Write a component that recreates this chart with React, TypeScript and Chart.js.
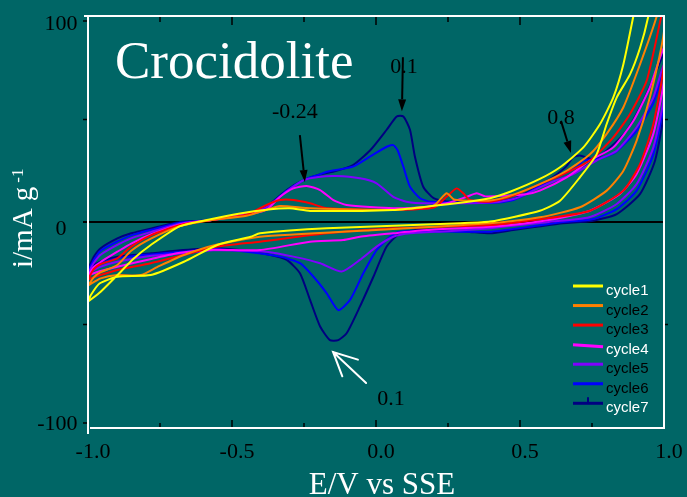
import React, { useEffect, useRef } from 'react';
import { Chart, registerables } from 'chart.js';

Chart.register(...registerables);

// ---------------- data ----------------
const seriesLabels = ['cycle1', 'cycle2', 'cycle3', 'cycle4', 'cycle5', 'cycle6', 'cycle7'];
const seriesColors = ['#ffff00', '#ff8000', '#ff0000', '#ff00ff', '#8000ff', '#0000ff', '#000080'];
const legendTextColors = ['#ffffff', '#000000', '#000000', '#ffffff', '#000000', '#000000', '#ffffff'];

// each cycle: [E (V vs SSE), i (mA/g)] – forward sweep then reverse sweep
const cycle1: [number, number][] = [
  [-1.0, -38.9], [-0.956, -34], [-0.898, -25.9], [-0.84, -17.7], [-0.782, -11.2], [-0.68, -2], [-0.57, 1.5],
  [-0.472, 4.2], [-0.38, 6], [-0.3, 6.7], [-0.229, 5.4], [0.06, 5.9], [0.176, 7.5], [0.3, 9.5], [0.396, 11.6],
  [0.47, 15], [0.569, 21], [0.639, 26.7], [0.72, 36.4], [0.778, 47.8], [0.824, 60.8], [0.859, 77], [0.893, 100],
  [0.92, 120], [0.97, 120], [0.945, 100], [0.917, 85], [0.882, 72], [0.836, 60.8], [0.801, 47.8], [0.766, 33],
  [0.708, 21.8], [0.639, 10.4], [0.569, 5.5], [0.396, 0.2], [0.292, -0.6], [-0.171, -3.1], [-0.403, -5.5],
  [-0.435, -7.2], [-0.551, -11.2], [-0.667, -19.4], [-0.782, -25.9], [-0.898, -26.7], [-0.96, -30], [-0.99, -35.6],
  [-1.0, -38.9],
];
const cycle2: [number, number][] = [
  [-1.0, -31], [-0.98, -27], [-0.956, -24.5], [-0.898, -21], [-0.85, -14], [-0.78, -8], [-0.68, -2], [-0.57, 1],
  [-0.45, 3], [-0.38, 6], [-0.333, 7.8], [-0.229, 6.7], [0.06, 5.9], [0.2, 8], [0.245, 14], [0.27, 11], [0.3, 10.5],
  [0.396, 10.5], [0.47, 13], [0.569, 18.5], [0.662, 25], [0.743, 33], [0.801, 43], [0.859, 56], [0.917, 77],
  [0.974, 100], [1.0, 115],
  [1.0, 93], [0.951, 60.8], [0.905, 39.7], [0.859, 25], [0.801, 15.3], [0.708, 7.2], [0.569, 2.3], [0.396, -0.6],
  [0.0, -3.9], [-0.403, -7.2], [-0.551, -11], [-0.667, -16.1], [-0.76, -22], [-0.817, -25.9], [-0.898, -25.9],
  [-0.956, -27.5], [-1.0, -31],
];
const cycle3: [number, number][] = [
  [-1.0, -28], [-0.98, -23], [-0.956, -20.5], [-0.898, -17.7], [-0.85, -12], [-0.78, -6.4], [-0.68, -1.5], [-0.57, 1],
  [-0.45, 3.5], [-0.38, 8.3], [-0.333, 10.7], [-0.287, 10.7], [-0.229, 9.1], [-0.171, 6.7], [0.06, 5.9], [0.2, 7],
  [0.245, 12.3], [0.28, 16.4], [0.303, 14], [0.326, 10.7], [0.396, 9.9], [0.47, 12.5], [0.569, 18.5], [0.627, 21.8],
  [0.743, 30], [0.824, 41.3], [0.882, 52.7], [0.94, 69], [0.99, 100], [1.0, 106],
  [1.0, 77], [0.963, 47.8], [0.917, 28.3], [0.859, 15.3], [0.743, 5.5], [0.569, 1.3], [0.396, -1.5], [0.06, -3.1],
  [-0.171, -5.5], [-0.403, -9.6], [-0.551, -12], [-0.667, -16.1], [-0.782, -20.1], [-0.898, -23.4], [-0.96, -26],
  [-1.0, -28],
];
const cycle4: [number, number][] = [
  [-1.0, -26], [-0.98, -22], [-0.956, -19.5], [-0.898, -14.5], [-0.85, -10.5], [-0.78, -6], [-0.68, -1.2], [-0.57, 1],
  [-0.45, 3.5], [-0.38, 6], [-0.333, 12.3], [-0.287, 16.4], [-0.241, 17.6], [-0.194, 15.6], [-0.148, 10.7],
  [-0.102, 8.3], [0.06, 6.7], [0.176, 7.5], [0.245, 9.1], [0.315, 12.3], [0.35, 14], [0.38, 12.5], [0.45, 12.8],
  [0.52, 13.5], [0.569, 15.3], [0.662, 21.8], [0.743, 30], [0.824, 36.4], [0.894, 49.4], [0.951, 65.7], [1.0, 85],
  [1.0, 69], [0.963, 43], [0.905, 23.4], [0.847, 13.7], [0.743, 5.5], [0.62, 1.5], [0.5, -1], [0.396, -2.3],
  [0.176, -3.9], [0.06, -5.5], [-0.056, -7.2], [-0.114, -8.8], [-0.229, -9.6], [-0.403, -13.7], [-0.565, -13.5],
  [-0.68, -15], [-0.78, -18], [-0.898, -21.8], [-0.96, -24], [-1.0, -26],
];
const cycle5: [number, number][] = [
  [-1.0, -25], [-0.98, -20], [-0.956, -16], [-0.898, -11.2], [-0.85, -8], [-0.78, -4.8], [-0.68, -0.8], [-0.57, 1],
  [-0.45, 4], [-0.38, 7.3], [-0.31, 15], [-0.25, 20.5], [-0.2, 22], [-0.137, 22.4], [-0.056, 21.3], [0.002, 18.9],
  [0.06, 12.3], [0.106, 9.9], [0.176, 9.1], [0.4, 9.5], [0.47, 11], [0.52, 13.5], [0.569, 16.9], [0.62, 20],
  [0.685, 23.4], [0.766, 30], [0.836, 34.8], [0.905, 46.2], [0.963, 60.8], [1.0, 77],
  [1.0, 61], [0.963, 36.4], [0.905, 18.5], [0.836, 8.8], [0.74, 2.3], [0.6, 0], [0.5, -1.5], [0.4, -3], [0.25, -4.5],
  [0.118, -5.5], [0.06, -7.2], [0.002, -12], [-0.056, -18.5], [-0.119, -24.2], [-0.194, -20.1], [-0.287, -16.9],
  [-0.38, -14.5], [-0.45, -14], [-0.565, -13.8], [-0.67, -15.2], [-0.78, -16.5], [-0.898, -19.4], [-0.96, -22],
  [-1.0, -25],
];
const cycle6: [number, number][] = [
  [-1.0, -24], [-0.98, -18.5], [-0.956, -14], [-0.898, -9.5], [-0.85, -6.5], [-0.78, -3.8], [-0.68, -0.4], [-0.57, 1],
  [-0.45, 4], [-0.38, 7.3], [-0.31, 15.2], [-0.25, 20.5], [-0.2, 23], [-0.17, 24.5], [-0.08, 27], [-0.02, 32],
  [0.037, 36.7], [0.06, 37.5], [0.075, 35], [0.095, 27], [0.118, 17.2], [0.153, 11.6], [0.19, 9.9], [0.4, 9.3],
  [0.47, 10.5], [0.52, 13.5], [0.569, 17.7], [0.62, 21.5], [0.66, 24], [0.7, 27], [0.72, 30], [0.766, 30.7],
  [0.8, 32], [0.836, 34.5], [0.905, 44.5], [0.963, 58], [1.0, 74],
  [1.0, 58], [0.963, 33], [0.905, 15.3], [0.836, 6.3], [0.75, 1.3], [0.65, 0], [0.55, -2], [0.4, -4.7], [0.29, -4.7],
  [0.083, -4.7], [0.049, -7.2], [0.002, -13.7], [-0.044, -25], [-0.09, -38], [-0.131, -43], [-0.171, -34.8],
  [-0.217, -26.7], [-0.264, -20.1], [-0.333, -16.9], [-0.45, -14.5], [-0.565, -13.2], [-0.67, -14.5], [-0.78, -15.8],
  [-0.898, -17.7], [-0.96, -20.5], [-1.0, -24],
];
const cycle7: [number, number][] = [
  [-1.0, -23], [-0.98, -17], [-0.956, -12.8], [-0.898, -8], [-0.85, -5.5], [-0.78, -3.1], [-0.68, 0], [-0.57, 1],
  [-0.45, 4.2], [-0.38, 7.5], [-0.31, 15.6], [-0.25, 20.5], [-0.2, 23], [-0.15, 24.5], [-0.08, 27.8], [-0.02, 35],
  [0.037, 45], [0.072, 51.5], [0.095, 51.5], [0.118, 45], [0.135, 32], [0.164, 17.2], [0.2, 11.6], [0.245, 10],
  [0.4, 10], [0.47, 11], [0.52, 14], [0.569, 17.7], [0.616, 22], [0.66, 27], [0.685, 31.6], [0.708, 32.4],
  [0.755, 30.7], [0.8, 34.8], [0.87, 44.5], [0.928, 59], [0.974, 73.8], [1.0, 82],
  [1.0, 54], [0.969, 30], [0.917, 13.7], [0.836, 3.9], [0.75, 0.5], [0.65, -0.6], [0.55, -2.5], [0.477, -3.9],
  [0.396, -5.5], [0.315, -4.7], [0.153, -3.9], [0.083, -5.5], [0.037, -12], [-0.009, -26.7], [-0.056, -41.3],
  [-0.102, -54.3], [-0.131, -57.6], [-0.16, -57.6], [-0.194, -51], [-0.229, -38], [-0.264, -25], [-0.31, -18.5],
  [-0.37, -16], [-0.45, -14], [-0.565, -12.8], [-0.67, -13.7], [-0.78, -15.3], [-0.898, -16.9], [-0.96, -19.5],
  [-1.0, -23],
];
const cycles = [cycle1, cycle2, cycle3, cycle4, cycle5, cycle6, cycle7];

const xMajorTicks = [-1, -0.5, 0, 0.5, 1];
const xMajorTickLabels = ['-1.0', '-0.5', '0.0', '0.5', '1.0'];
const xMinorTicks = [-0.75, -0.25, 0.25, 0.75];
const yLabelTicks = [100, 0, -100];
const yLabelTickLabels = ['100', '0', '-100'];
const yMinorTicks = [50, -50];

const chartTitle = 'Crocidolite';
const xAxisTitle = 'E/V vs SSE';
const yAxisTitle = 'i/mA g';
const yAxisTitleSup = '-1';

// ---------------- drawing helpers ----------------
const BG = '#006666';
const SERIF = '"Liberation Serif", "Times New Roman", serif';
const SANS = '"Liberation Sans", Arial, sans-serif';

function filledArrow(ctx: CanvasRenderingContext2D, x1: number, y1: number, x2: number, y2: number, color: string) {
  const a = Math.atan2(y2 - y1, x2 - x1);
  const hl = 12, hw = 4;
  const bx = x2 - hl * Math.cos(a), by = y2 - hl * Math.sin(a);
  ctx.save();
  ctx.strokeStyle = color;
  ctx.fillStyle = color;
  ctx.lineWidth = 2;
  ctx.beginPath();
  ctx.moveTo(x1, y1);
  ctx.lineTo(bx, by);
  ctx.stroke();
  ctx.beginPath();
  ctx.moveTo(x2, y2);
  ctx.lineTo(bx + hw * Math.sin(a), by - hw * Math.cos(a));
  ctx.lineTo(bx - hw * Math.sin(a), by + hw * Math.cos(a));
  ctx.closePath();
  ctx.fill();
  ctx.restore();
}

function openArrow(ctx: CanvasRenderingContext2D, x1: number, y1: number, x2: number, y2: number, color: string) {
  const a = Math.atan2(y1 - y2, x1 - x2);
  const len = 26, spread = (26 * Math.PI) / 180;
  ctx.save();
  ctx.strokeStyle = color;
  ctx.lineWidth = 2;
  ctx.lineCap = 'round';
  ctx.beginPath();
  ctx.moveTo(x1, y1);
  ctx.lineTo(x2, y2);
  ctx.moveTo(x2 + len * Math.cos(a - spread), y2 + len * Math.sin(a - spread));
  ctx.lineTo(x2, y2);
  ctx.lineTo(x2 + len * Math.cos(a + spread), y2 + len * Math.sin(a + spread));
  ctx.stroke();
  ctx.restore();
}

const decorPlugin = {
  id: 'decor',
  beforeDraw(chart: any) {
    const ctx = chart.ctx as CanvasRenderingContext2D;
    ctx.save();
    ctx.fillStyle = BG;
    ctx.fillRect(0, 0, chart.width, chart.height);
    ctx.restore();
  },
  beforeDatasetsDraw(chart: any) {
    const ctx = chart.ctx as CanvasRenderingContext2D;
    const { left, right } = chart.chartArea;
    const y0 = chart.scales.y.getPixelForValue(0);
    ctx.save();
    ctx.strokeStyle = '#000000';
    ctx.lineWidth = 2;
    ctx.beginPath();
    ctx.moveTo(left - 5, y0);
    ctx.lineTo(right, y0);
    ctx.stroke();
    ctx.restore();
  },
  afterDatasetsDraw(chart: any) {
    const ctx = chart.ctx as CanvasRenderingContext2D;
    const { left, right, top, bottom } = chart.chartArea;
    const xs = chart.scales.x;
    const ys = chart.scales.y;
    ctx.save();

    // frame
    ctx.strokeStyle = '#ffffff';
    ctx.lineWidth = 2;
    ctx.beginPath();
    ctx.moveTo(left - 4, top - 1);
    ctx.lineTo(right + 1, top - 1);
    ctx.moveTo(left, top - 1);
    ctx.lineTo(left, bottom + 7);
    ctx.moveTo(left + 2, bottom + 1);
    ctx.lineTo(right + 1, bottom + 1);
    ctx.moveTo(right, top - 1);
    ctx.lineTo(right, bottom + 1);
    ctx.stroke();

    // ticks
    ctx.strokeStyle = '#000000';
    ctx.lineWidth = 1.5;
    ctx.beginPath();
    xMajorTicks.forEach((v) => {
      const x = xs.getPixelForValue(v);
      if (v > -1 && v < 1) {
        ctx.moveTo(x, top);
        ctx.lineTo(x, top + 8);
        ctx.moveTo(x, bottom);
        ctx.lineTo(x, bottom - 7);
      }
    });
    xMinorTicks.forEach((v) => {
      const x = xs.getPixelForValue(v);
      ctx.moveTo(x, top);
      ctx.lineTo(x, top + 5);
      ctx.moveTo(x, bottom);
      ctx.lineTo(x, bottom - 4);
    });
    [...yLabelTicks, ...yMinorTicks].forEach((v) => {
      const y = Math.min(Math.max(ys.getPixelForValue(v), top + 4), bottom - 4);
      ctx.moveTo(left - 5, y);
      ctx.lineTo(left - 1, y);
    });
    yMinorTicks.forEach((v) => {
      const y = ys.getPixelForValue(v);
      ctx.moveTo(right + 1, y);
      ctx.lineTo(right + 4, y);
    });
    ctx.stroke();

    // tick labels
    ctx.fillStyle = '#000000';
    ctx.font = `22px ${SERIF}`;
    ctx.textBaseline = 'alphabetic';
    ctx.textAlign = 'center';
    xMajorTicks.forEach((v, k) => {
      ctx.fillText(xMajorTickLabels[k], xs.getPixelForValue(v) + 5, bottom + 31);
    });
    ctx.textAlign = 'right';
    yLabelTicks.forEach((v, k) => {
      const label = yLabelTickLabels[k];
      const digits = label.replace('-', '');
      const w = ctx.measureText(digits).width;
      const y = Math.min(ys.getPixelForValue(v) + 13, bottom + 3);
      ctx.fillText(label, left - 27 + w / 2, y);
    });

    // annotations (black labels with arrows)
    const P = (e: number, i: number) => [xs.getPixelForValue(e), ys.getPixelForValue(i)];
    const [ax1, ay1] = P(-0.247, 19.5);
    ctx.fillText('', 0, 0);
    ctx.textAlign = 'center';
    ctx.fillText('-0.24', ax1 - 10, ay1 - 64);
    filledArrow(ctx, ax1 - 5, ay1 - 47, ax1, ay1, '#000000');

    const [bx1, by1] = P(0.09, 54);
    ctx.fillText('0.1', bx1 + 2, by1 - 38);
    filledArrow(ctx, bx1 + 1, by1 - 54, bx1, by1, '#000000');

    const [cx1, cy1] = P(0.677, 33.7);
    ctx.fillText('0.8', cx1 - 10, cy1 - 29);
    filledArrow(ctx, cx1 - 10, cy1 - 32, cx1, cy1, '#000000');

    const [dx1, dy1] = P(-0.149, -63.4);
    ctx.fillText('0.1', dx1 + 58, dy1 + 53);
    openArrow(ctx, dx1 + 33, dy1 + 31, dx1, dy1, '#ffffff');

    // chart title
    ctx.fillStyle = '#ffffff';
    ctx.textAlign = 'left';
    ctx.font = `53px ${SERIF}`;
    ctx.fillText(chartTitle, left + 27, top + 61);

    // axis titles
    ctx.font = `31px ${SERIF}`;
    ctx.textAlign = 'center';
    ctx.fillText(xAxisTitle, (left + right) / 2 + 6, bottom + 67);

    ctx.save();
    ctx.translate(32, 268);
    ctx.rotate(-Math.PI / 2);
    ctx.textAlign = 'left';
    ctx.font = `29px ${SERIF}`;
    ctx.fillText(yAxisTitle, 0, 0);
    const w0 = ctx.measureText(yAxisTitle).width;
    ctx.font = `17px ${SERIF}`;
    ctx.fillText(yAxisTitleSup, w0 + 4, -9);
    ctx.restore();

    // legend
    const lx = right - 91;
    const ly0 = bottom - 141;
    const step = 19.55;
    ctx.font = `15px ${SANS}`;
    ctx.textAlign = 'left';
    chart.data.datasets.forEach((ds: any, k: number) => {
      const y = ly0 + k * step;
      ctx.strokeStyle = ds.borderColor;
      ctx.lineWidth = 3;
      ctx.beginPath();
      ctx.moveTo(lx, y);
      ctx.lineTo(lx + 30, k === 3 ? y + 2 : y);
      ctx.stroke();
      if (k === 6) {
        ctx.lineWidth = 2;
        ctx.beginPath();
        ctx.moveTo(lx + 15, y - 6);
        ctx.lineTo(lx + 15, y);
        ctx.stroke();
      }
      ctx.fillStyle = legendTextColors[k];
      ctx.fillText(ds.label, lx + 33, y + 9);
    });

    ctx.restore();
  },
};

export default function App() {
  const canvasRef = useRef<HTMLCanvasElement | null>(null);

  useEffect(() => {
    document.body.style.margin = '0';
    document.body.style.background = BG;
    const canvas = canvasRef.current;
    if (!canvas) return;
    const chart = new Chart(canvas, {
      type: 'scatter',
      data: {
        datasets: cycles.map((pts, k) => ({
          label: seriesLabels[k],
          data: pts.map(([x, y]) => ({ x, y })),
          borderColor: seriesColors[k],
          backgroundColor: seriesColors[k],
          showLine: true,
          fill: false,
          pointRadius: 0,
          borderWidth: 2,
          tension: 0.2,
        })),
      },
      options: {
        animation: false,
        responsive: false,
        devicePixelRatio: 1,
        layout: { padding: { left: 88, right: 23, top: 17, bottom: 70 } },
        scales: {
          x: { type: 'linear', min: -1, max: 1, display: false },
          y: { type: 'linear', min: -100, max: 100, display: false },
        },
        plugins: {
          legend: { display: false },
          tooltip: { enabled: false },
        },
      },
      plugins: [decorPlugin],
    } as any);
    return () => chart.destroy();
  }, []);

  return (
    <div style={{ width: 687, height: 497, background: BG }}>
      <canvas ref={canvasRef} width={687} height={497} style={{ display: 'block' }} />
    </div>
  );
}
